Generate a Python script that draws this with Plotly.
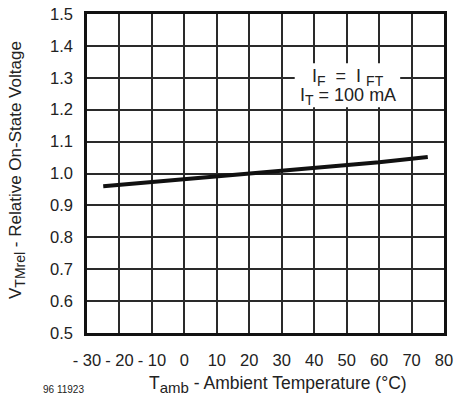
import plotly.graph_objects as go

temp = [-25, -10, 0, 10, 20, 30, 40, 50, 60, 75]
v_rel = [0.96, 0.973, 0.981, 0.99, 1.0, 1.01, 1.018, 1.026, 1.035, 1.052]

x_ticks = [-30, -20, -10, 0, 10, 20, 30, 40, 50, 60, 70, 80]
x_labels = ["- 30", "- 20", "- 10", "0", "10", "20", "30", "40", "50", "60", "70", "80"]
y_ticks = [0.5, 0.6, 0.7, 0.8, 0.9, 1.0, 1.1, 1.2, 1.3, 1.4, 1.5]
y_labels = [f"{v:.1f}" for v in y_ticks]

FONT = "Liberation Sans, Arial, sans-serif"
TXT = "#222222"

def sub(t, size):
    return f"<sub><span style='font-size:{size}px'>{t}</span></sub>"

fig = go.Figure()
fig.add_trace(go.Scatter(x=temp, y=v_rel, mode="lines",
                         line=dict(color="#111111", width=4), showlegend=False))

fig.update_layout(
    width=456, height=398,
    margin=dict(l=87, r=12, t=14, b=65, autoexpand=False),
    paper_bgcolor="white", plot_bgcolor="white",
    font=dict(family=FONT, size=17, color=TXT),
    xaxis=dict(range=[-30, 80], tickvals=x_ticks, ticktext=x_labels,
               showgrid=True, gridcolor="#2a2a2a", gridwidth=1.5,
               showline=True, linecolor="#111111", linewidth=2.5, mirror=True,
               zeroline=False, ticks="", ticklabelstandoff=10, automargin=False,
               tickangle=0, tickfont=dict(size=16.5)),
    yaxis=dict(range=[0.5, 1.5], tickvals=y_ticks, ticktext=y_labels,
               showgrid=True, gridcolor="#2a2a2a", gridwidth=1.5,
               showline=True, linecolor="#111111", linewidth=2.5, mirror=True,
               zeroline=False, ticks="", ticklabelstandoff=8, automargin=False,
               tickfont=dict(size=16.5)),
)

# condition box
fig.add_shape(type="rect", xref="x", yref="y", x0=34, x1=66.5, y0=1.208, y1=1.346,
              fillcolor="white", line=dict(width=0), layer="above")
fig.add_annotation(x=50.5, y=1.302, xref="x", yref="y", yanchor="middle",
                   text="I" + sub("F", 14) + "  =  I " + sub("FT", 14), showarrow=False,
                   font=dict(size=18, color=TXT))
fig.add_annotation(x=50.5, y=1.240, xref="x", yref="y", yanchor="middle",
                   text="I" + sub("T", 14) + " = 100 mA", showarrow=False,
                   font=dict(size=18, color=TXT))

# axis titles
fig.add_annotation(x=0.535, y=-0.16, xref="paper", yref="paper",
                   xanchor="center", yanchor="middle", showarrow=False,
                   text="T" + sub("amb", 15) + " - Ambient Temperature (°C)",
                   font=dict(size=17.5, color=TXT))
fig.add_annotation(x=-0.196, y=0.511, xref="paper", yref="paper",
                   xanchor="center", yanchor="middle", showarrow=False, textangle=-90,
                   text="V" + sub("TMrel", 14) + " - Relative On-State Voltage",
                   font=dict(size=17, color=TXT))
fig.add_annotation(x=-0.067, y=-0.176, xref="paper", yref="paper",
                   xanchor="center", yanchor="middle", showarrow=False,
                   text="96 11923", font=dict(size=10, color=TXT))

fig.write_html("out.html", config={"displayModeBar": False},
               post_script="document.body.style.margin='0';document.body.style.overflow='hidden';")
